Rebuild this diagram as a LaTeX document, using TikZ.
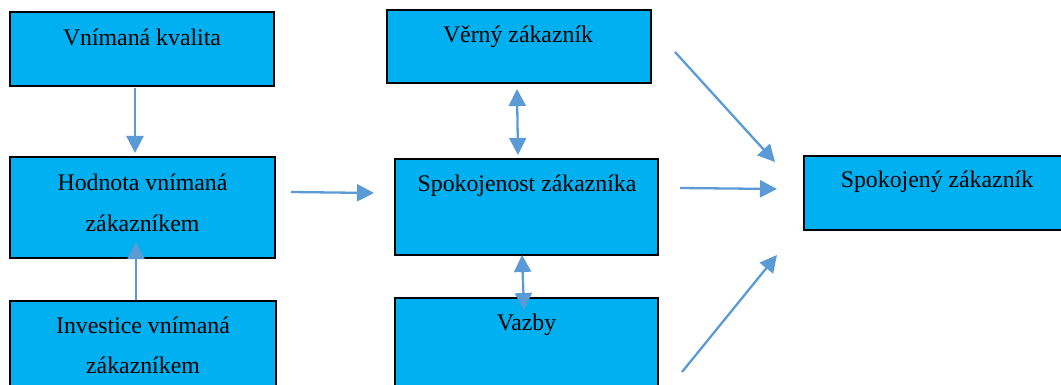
\documentclass[tikz,border=0pt]{standalone}
\usepackage{fontspec}
\setmainfont{Liberation Serif}
\usetikzlibrary{arrows.meta}
\definecolor{boxfill}{HTML}{00B0F0}
\definecolor{arrowblue}{HTML}{5B9BD5}
\tikzset{
  box/.style={draw=black, fill=boxfill, line width=1.4pt, inner sep=0pt},
  txt/.style={anchor=base, inner sep=0pt, font=\fontsize{23.8}{28}\selectfont},
  arr/.style={draw=arrowblue, line width=2.3pt,
    -{Triangle[length=17pt,width=17pt]}},
  darr/.style={draw=arrowblue, line width=2.3pt,
    {Triangle[length=17pt,width=17pt]}-{Triangle[length=17pt,width=17pt]}},
}
\begin{document}
\begin{tikzpicture}[x=1pt,y=-1pt]
\useasboundingbox (0,0) rectangle (1061,385);
\clip (0,0) rectangle (1061,385);

% boxes
\node[box, minimum width=264pt, minimum height=74pt]  (kval) at (142,49)    {};
\node[box, minimum width=264pt, minimum height=73pt]  (verny) at (519,46.5) {};
\node[box, minimum width=265pt, minimum height=101pt] (hodn) at (142.5,207.5) {};
\node[box, minimum width=266pt, minimum height=99pt]  (inv) at (143,350.5)  {};
\node[box, minimum width=263pt, minimum height=96pt]  (spok) at (526.5,207) {};
\node[box, minimum width=263pt, minimum height=102pt] (vazby) at (526.5,349) {};
\node[box, minimum width=271pt, minimum height=74pt]  (cil) at (939.5,193)  {};

% texts
\node[txt] (t1)  at (142,46)  {Vnímaná kvalita};
\node[txt] (t2)  at (518,43)  {Věrný zákazník};
\node[txt] (t3a) at (142.5,190) {Hodnota vnímaná};
\node[txt] (t3b) at (142.5,231) {zákazníkem};
\node[txt] (t4a) at (143,333) {Investice vnímaná};
\node[txt] (t4b) at (143,373) {zákazníkem};
\node[txt] (t5)  at (527,192) {Spokojenost zákazníka};
\node[txt] (t6)  at (526.5,330) {Vazby};
\node[txt] (t7)  at (937,188) {Spokojený zákazník};

% connector ends
\coordinate (kvalS) at (135,88);
\coordinate (hodnN) at (135,153);
\coordinate (invN)  at (136,300);
\coordinate (hodnIn) at (136,242);
\coordinate (hodnE) at (291,192);
\coordinate (spokW) at (374,193);
\coordinate (vernyS) at (517,89);
\coordinate (spokN) at (518,155);
\coordinate (spokS) at (522,255);
\coordinate (vazbyIn) at (524,310);
\coordinate (u0) at (675,52);
\coordinate (u1) at (775,162);
\coordinate (m0) at (680,188);
\coordinate (m1) at (777,189);
\coordinate (l0) at (682,372);
\coordinate (l1) at (777,255);

% connectors
\draw[arr]  (kvalS) -- (hodnN);
\draw[arr]  (invN) -- (hodnIn);
\draw[arr]  (hodnE) -- (spokW);
\draw[darr] (vernyS) -- (spokN);
\draw[darr] (spokS) -- (vazbyIn);
\draw[arr]  (u0) -- (u1);
\draw[arr]  (m0) -- (m1);
\draw[arr]  (l0) -- (l1);
\end{tikzpicture}
\end{document}
